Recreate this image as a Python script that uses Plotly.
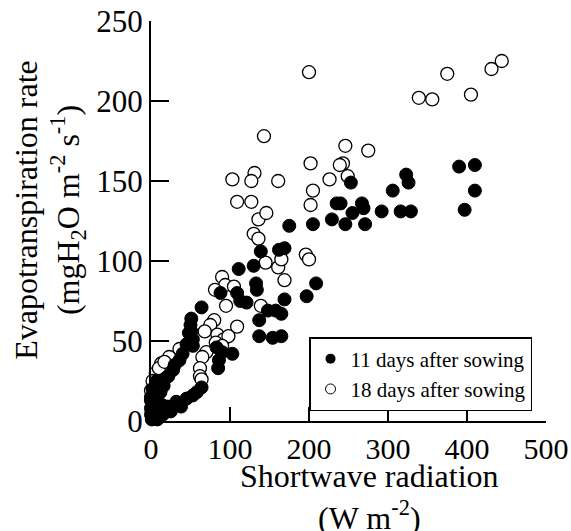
import plotly.graph_objects as go

# 11 days after sowing (filled)
x11 = [390, 410, 410, 397, 323, 326, 306, 253, 267, 269, 255, 292, 316, 329, 240, 246, 271,
       175, 205, 229, 235,
       139, 162, 169, 111, 130, 133, 134, 88, 109, 113, 121, 64, 51, 51, 53, 137, 148, 158, 165,
       169, 137, 154, 165, 209, 197, 90, 103, 83, 85, 86, 64, 53,
       40, 36, 28, 19, 10, 4, 1, 2, 0, 1, 3,
       45, 32, 21, 10, 2, 5, 8, 15, 25, 38,
       3, 6, 8, 12, 14, 5, 0, 0, 2, 7, 16, 22, 30, 45, 48, 50, 53, 58]
y11 = [159, 160, 144, 132, 154, 149, 144, 149, 136, 133, 130, 131, 131, 131, 136, 123, 123,
       122, 123, 126, 136,
       106, 107, 108, 95, 97, 86, 82, 80, 80, 75, 74, 71, 64, 56, 51, 63, 69, 69, 67,
       76, 53, 52, 53, 86, 78, 43, 42, 46, 33, 38, 21, 16,
       42, 38, 32, 27, 23, 19, 13, 8, 4, 1, 2,
       14, 12, 9, 7, 5, 3, 1, 4, 6, 9,
       10, 15, 12, 18, 10, 6, 8, 15, 20, 25, 22, 28, 35, 48, 55, 60, 47, 18]

# 18 days after sowing (open)
x18 = [375, 339, 356, 405, 431, 444, 246, 275, 243, 249,
       200, 143, 202, 239, 226, 103, 131, 127, 161, 205, 109, 127, 202, 136, 146,
       130, 136, 145, 161, 165, 196, 200, 169, 90, 94, 81, 105, 95, 139, 109, 80, 75, 68,
       84, 92, 98, 82, 90, 70, 65, 62, 62, 64, 36, 23, 13, 6, 2, 0, 0,
       1, 3, 5, 10, 17]
y18 = [217, 202, 201, 204, 220, 225, 172, 169, 161, 153,
       218, 178, 161, 160, 151, 151, 155, 150, 150, 144, 137, 137, 135, 126, 130,
       117, 114, 99, 96, 101, 104, 101, 88, 90, 85, 82, 84, 72, 72, 59, 63, 60, 56,
       54, 51, 53, 49, 47, 43, 40, 33, 28, 26, 45, 40, 36, 30, 25, 19, 13,
       6, 9, 20, 33, 37]

xticks = [0, 100, 200, 300, 400, 500]
yticks = [0, 50, 100, 150, 200, 250]
names = ["11 days after sowing", "18 days after sowing"]

FONT = "Liberation Serif, Times New Roman, serif"

fig = go.Figure()
fig.add_trace(go.Scatter(x=x18, y=y18, mode="markers", showlegend=False, cliponaxis=False,
                         marker=dict(size=13, color="white", line=dict(color="black", width=1.3))))
fig.add_trace(go.Scatter(x=x11, y=y11, mode="markers", showlegend=False, cliponaxis=False,
                         marker=dict(size=13, color="black", line=dict(color="black", width=1))))
# legend entries
fig.add_trace(go.Scatter(x=[None], y=[None], mode="markers", name=names[0],
                         marker=dict(size=10, color="black")))
fig.add_trace(go.Scatter(x=[None], y=[None], mode="markers", name=names[1],
                         marker=dict(size=10, color="white", line=dict(color="black", width=1))))

fig.update_layout(
    template="none",
    width=571, height=531,
    margin=dict(l=151, r=25, t=21, b=110, autoexpand=False),
    paper_bgcolor="white", plot_bgcolor="white",
    font=dict(family=FONT, color="black", size=30),
    xaxis=dict(range=[0, 500], tickvals=xticks, ticks="inside", ticklen=14, tickwidth=1.5,
               tickcolor="black", showline=True, linecolor="black", linewidth=2,
               showgrid=False, zeroline=False, automargin=False, ticklabeloverflow="allow",
               tickfont=dict(size=30, family=FONT)),
    yaxis=dict(range=[0, 250], tickvals=yticks, ticks="inside", ticklen=18, tickwidth=1.5,
               tickcolor="black", showline=True, linecolor="black", linewidth=2,
               showgrid=False, zeroline=False, automargin=False, ticklabeloverflow="allow",
               tickfont=dict(size=31, family=FONT)),
    legend=dict(x=0.9646, y=0.21, xanchor="right", yanchor="top", bgcolor="white",
                bordercolor="black", borderwidth=1.5, font=dict(size=21, family=FONT),
                tracegroupgap=0, itemwidth=30),
    annotations=[
        dict(text="Evapotranspiration rate<br>(mgH<sub>2</sub>O m<sup>-2</sup> s<sup>-1</sup>)",
             xref="paper", yref="paper", x=-0.257, y=0.527, xanchor="center", yanchor="middle",
             textangle=-90, showarrow=False, font=dict(size=32, family=FONT)),
        dict(text="Shortwave radiation<br>(W m<sup>-2</sup>)",
             xref="paper", yref="paper", x=0.554, y=-0.19, xanchor="center", yanchor="middle",
             showarrow=False, font=dict(size=32, family=FONT)),
    ],
)

fig.write_html("out.html", config={"displayModeBar": False},
               post_script="document.body.style.margin='0';document.body.style.overflow='hidden';")
